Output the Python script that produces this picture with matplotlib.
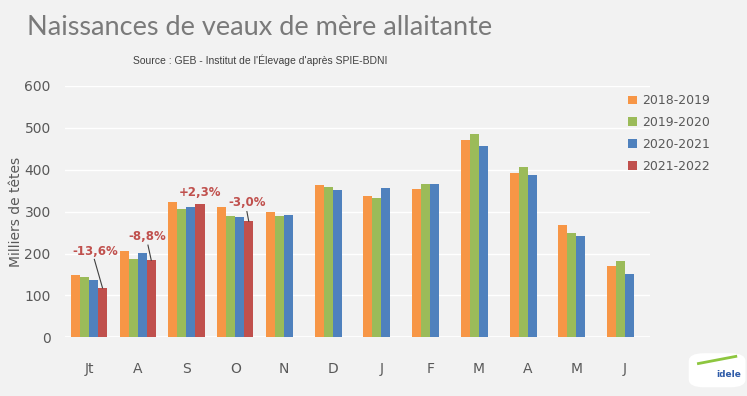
import numpy as np
import matplotlib
matplotlib.use("Agg")
import matplotlib.pyplot as plt
from matplotlib.patches import Patch, FancyBboxPatch

# Data (thousands of head)
months = ['Jt', 'A', 'S', 'O', 'N', 'D', 'J', 'F', 'M', 'A', 'M', 'J']
seasons = ['2018-2019', '2019-2020', '2020-2021', '2021-2022']
v_2018 = [149, 206, 324, 310, 299, 363, 338, 354, 471, 393, 269, 170]
v_2019 = [143, 187, 306, 290, 289, 358, 333, 365, 486, 406, 249, 182]
v_2020 = [137, 202, 312, 286, 291, 352, 357, 366, 456, 387, 241, 150]
v_2021 = [118, 184, 319, 277]
changes = ['-13,6%', '-8,8%', '+2,3%', '-3,0%']

colors = ['#F79646', '#9BBB59', '#4F81BD', '#C0504D']
bg = '#F2F2F2'
grey = '#595959'

fig = plt.figure(figsize=(7.47, 3.96), dpi=100, facecolor=bg)
ax = fig.add_axes([0.0865, 0.148, 0.783, 0.6354], facecolor=bg)

x = np.arange(len(months))
w = 0.185
series = [v_2018, v_2019, v_2020, v_2021]
for i, (vals, c) in enumerate(zip(series, colors)):
    xs = x[:len(vals)] + (i - 1.5) * w
    ax.bar(xs, vals, width=w, color=c, zorder=3)

ax.set_xlim(-0.5, 11.5)
ax.set_ylim(0, 600)
ax.set_yticks(range(0, 601, 100))
ax.set_xticks(x)
ax.set_xticklabels(months)
ax.grid(axis='y', color='white', lw=1, zorder=0)
ax.axhline(0, color='white', lw=1.2, zorder=2)
for s in ax.spines.values():
    s.set_visible(False)
ax.tick_params(axis='both', length=0, labelsize=10, colors=grey)
ax.tick_params(axis='x', pad=18)
ax.tick_params(axis='y', pad=10)
ax.set_ylabel('Milliers de têtes', fontsize=10, color=grey, labelpad=1)

# percentage labels on the 2021-2022 bars
red_x = x[:4] + 1.5 * w
label_pos = [(0.12, 204), (1.205, 240), (2.27, 346), (3.25, 321)]
line_start = [(0.11, 186), (1.21, 220), None, (3.24, 300)]
for k, txt in enumerate(changes):
    ax.text(label_pos[k][0], label_pos[k][1], txt, color=colors[3],
            fontsize=8.5, fontweight='bold', ha='center', va='center', zorder=5)
    if line_start[k] is not None:
        ax.plot([line_start[k][0], red_x[k]], [line_start[k][1], v_2021[k]],
                color='#404040', lw=0.8, zorder=5)

handles = [Patch(facecolor=c) for c in colors]
fig.legend(handles, seasons, loc='upper left', bbox_to_anchor=(0.826, 0.79),
           frameon=False, fontsize=9, labelcolor=grey, handlelength=0.7,
           handleheight=0.7, handletextpad=0.4, labelspacing=0.7)

fig.text(0.348, 0.93, 'Naissances de veaux de mère allaitante', ha='center',
         va='center', fontsize=19.5, color='#7A7A7A', family='Lato')
fig.text(0.348, 0.848, "Source : GEB - Institut de l'Élevage d'après SPIE-BDNI",
         ha='center', va='center', fontsize=7.5, color='#404040',
         family=['Liberation Sans', 'DejaVu Sans'])

# small idele logo
logo = FancyBboxPatch((0.93, 0.03), 0.06, 0.07, boxstyle='round,pad=0.008,rounding_size=0.02',
                      transform=fig.transFigure, facecolor='white', edgecolor='none')
fig.patches.append(logo)
fig.text(0.975, 0.055, 'idele', ha='center', va='center', fontsize=6.5,
         color='#2E5BA8', fontweight='bold')
fig.lines.append(plt.Line2D([0.935, 0.985], [0.082, 0.1], transform=fig.transFigure,
                            color='#8DC63F', lw=2))

fig.savefig('out.png', dpi=100, facecolor=bg)
